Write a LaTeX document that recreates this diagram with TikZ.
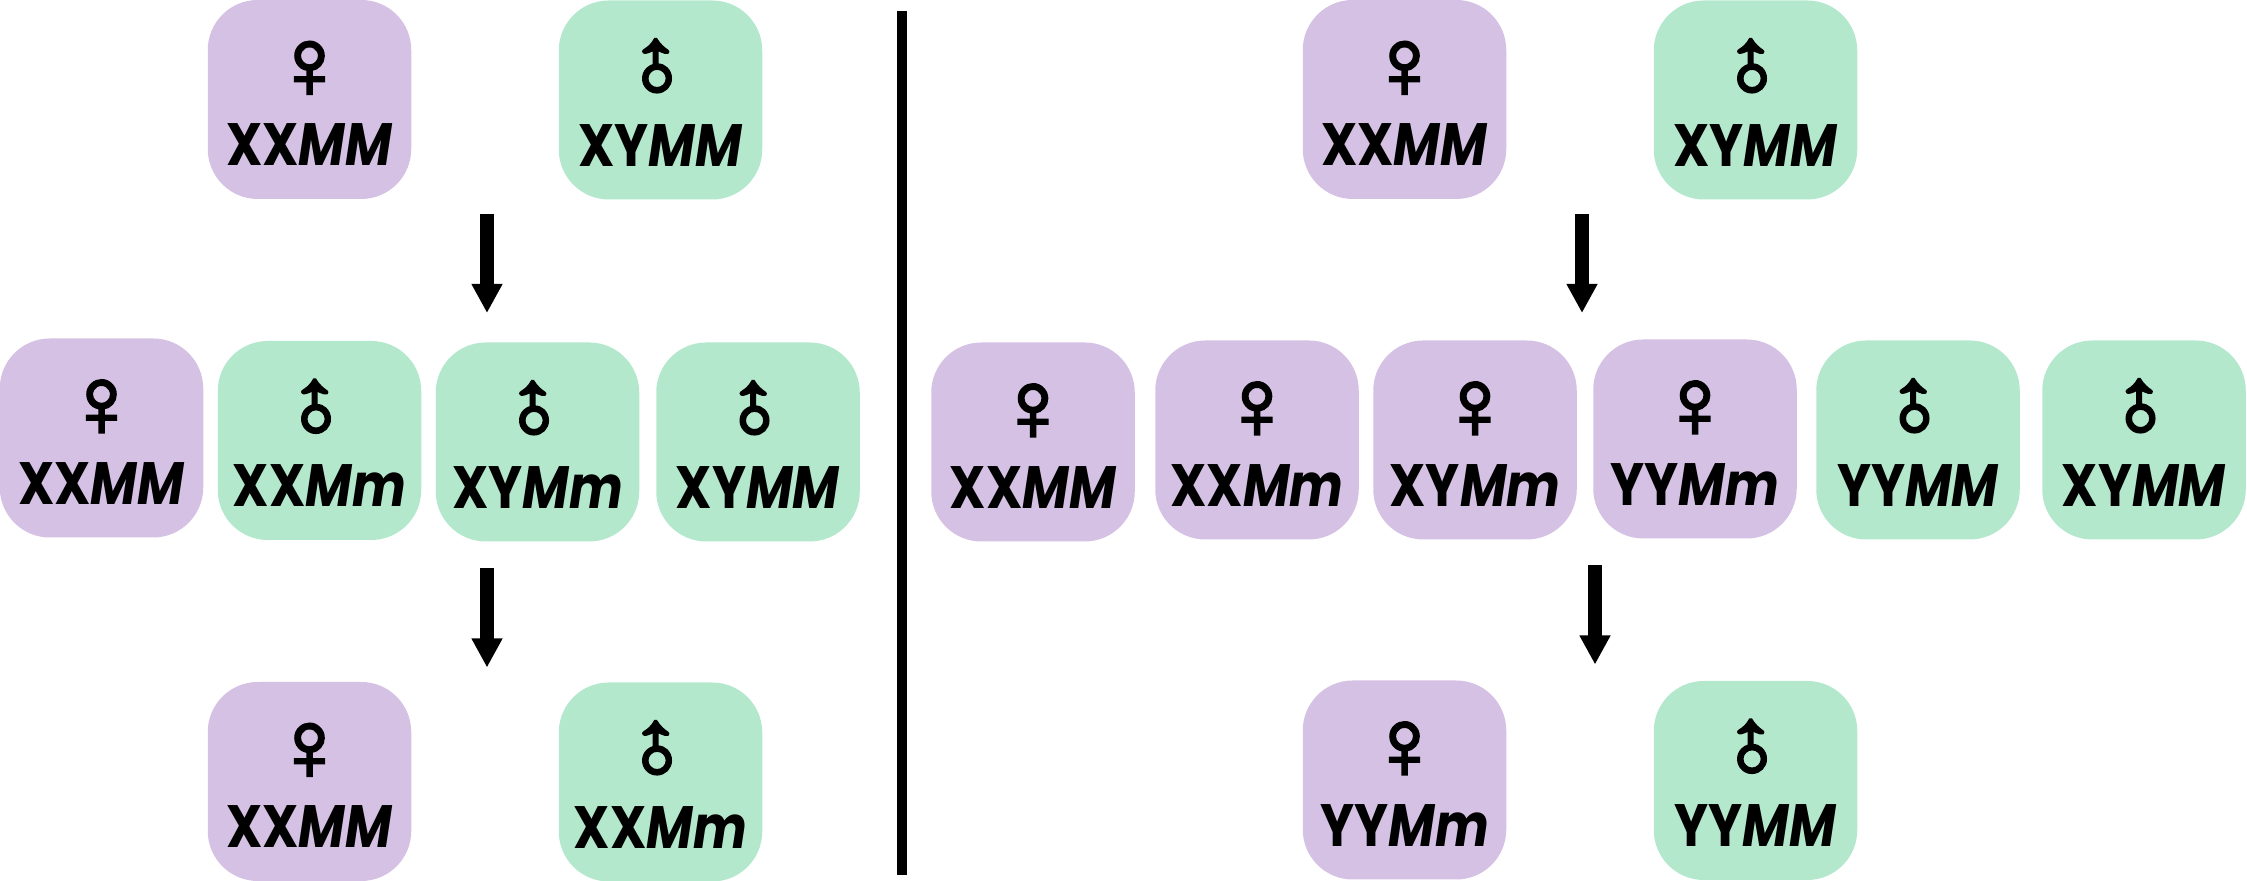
\documentclass[tikz,border=0pt]{standalone}
\usepackage{fontspec}
\usepackage{graphicx}
\setmainfont{Poppins}[FakeStretch=0.85]
\newfontfamily\symfont{Liberation Sans}[FakeBold=3]
\usetikzlibrary{arrows.meta}
\definecolor{femalecol}{HTML}{D5C1E4}
\definecolor{malecol}{HTML}{B3E8CC}
\newcommand{\fem}{\raisebox{-1pt}[35.6pt][5pt]{\mdseries\symfont\fontsize{56}{40}\selectfont ♀}}
\newcommand{\mal}{\raisebox{-2pt}[35.6pt][5pt]{\rotatebox[origin=c]{45}{\mdseries\symfont\fontsize{55}{40}\selectfont ♂}}}
\tikzset{
	sexnode/.style={rectangle, rounded corners=1cm, minimum width=4.07cm, minimum height=3.98cm, inner sep=0pt, align=center, font=\fontsize{34}{40}\selectfont\bfseries},
	femalenode/.style={sexnode, fill=femalecol},
	malenode/.style={sexnode, fill=malecol},
	bigarrow/.style={-{Triangle[length=0.58cm,width=0.58cm]}, line width=0.28cm},
	divider/.style={line width=0.2cm}
}
\begin{document}
\begin{tikzpicture}
	\useasboundingbox (0,0) rectangle (44.94,17.62);
	% left cross
	\node[femalenode] at (6.19,15.63) (lp1) {\fem\\XX\textit{MM}};
	\node[malenode] at (13.21,15.62) (lm1) {\mal\\XY\textit{MM}};
	\node[femalenode] at (2.03,8.86) (lf1) {\fem\\XX\textit{MM}};
	\node[malenode] at (6.39,8.81) (lf2) {\mal\\XX\textit{Mm}};
	\node[malenode] at (10.75,8.78) (lf3) {\mal\\XY\textit{Mm}};
	\node[malenode] at (15.16,8.78) (lf4) {\mal\\XY\textit{MM}};
	\node[femalenode] at (6.19,1.99) (lo1) {\fem\\XX\textit{MM}};
	\node[malenode] at (13.21,1.98) (lo2) {\mal\\XX\textit{Mm}};
	% right cross
	\node[femalenode] at (28.09,15.63) (rp1) {\fem\\XX\textit{MM}};
	\node[malenode] at (35.11,15.62) (rm1) {\mal\\XY\textit{MM}};
	\node[femalenode] at (20.66,8.78) (rf1) {\fem\\XX\textit{MM}};
	\node[femalenode] at (25.14,8.82) (rf2) {\fem\\XX\textit{Mm}};
	\node[femalenode] at (29.50,8.82) (rf3) {\fem\\XY\textit{Mm}};
	\node[femalenode] at (33.90,8.84) (rf4) {\fem\\YY\textit{Mm}};
	\node[malenode] at (38.36,8.82) (rf5) {\mal\\YY\textit{MM}};
	\node[malenode] at (42.88,8.82) (rf6) {\mal\\XY\textit{MM}};
	\node[femalenode] at (28.09,2.02) (ro1) {\fem\\YY\textit{Mm}};
	\node[malenode] at (35.11,2.01) (ro2) {\mal\\YY\textit{MM}};
	% arrow ends
	\coordinate (la1) at (9.74,13.34);
	\coordinate (lb1) at (9.74,11.36);
	\coordinate (la2) at (9.74,6.25);
	\coordinate (lb2) at (9.74,4.27);
	\coordinate (ra1) at (31.64,13.34);
	\coordinate (rb1) at (31.64,11.36);
	\coordinate (ra2) at (31.90,6.31);
	\coordinate (rb2) at (31.90,4.33);
	\coordinate (dtop) at (18.04,17.39);
	\coordinate (dbot) at (18.04,0.11);

	%Lines
	\draw[bigarrow] (la1) -- (lb1);
	\draw[bigarrow] (la2) -- (lb2);
	\draw[bigarrow] (ra1) -- (rb1);
	\draw[bigarrow] (ra2) -- (rb2);
	\draw[divider] (dtop) -- (dbot);
\end{tikzpicture}
\end{document}
